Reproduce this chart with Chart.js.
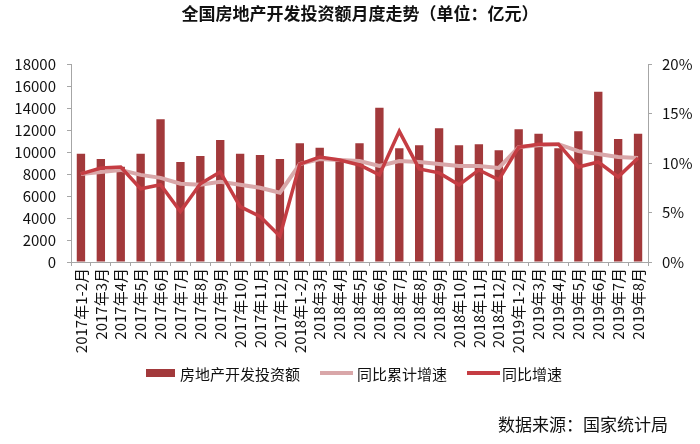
<!DOCTYPE html>
<html>
<head>
<meta charset="utf-8">
<script src="https://cdn.jsdelivr.net/npm/chart.js@4"></script>
<style>
  html, body { margin: 0; padding: 0; background: #fff; }
  #wrap { width: 700px; height: 444px; position: relative; }
</style>
</head>
<body>
<div id="wrap"><canvas id="chart" width="700" height="444"></canvas></div>
<script>
const months = ['2017年1-2月', '2017年3月', '2017年4月', '2017年5月', '2017年6月', '2017年7月', '2017年8月', '2017年9月', '2017年10月', '2017年11月', '2017年12月',
  '2018年1-2月', '2018年3月', '2018年4月', '2018年5月', '2018年6月', '2018年7月', '2018年8月', '2018年9月', '2018年10月', '2018年11月', '2018年12月',
  '2019年1-2月', '2019年3月', '2019年4月', '2019年5月', '2019年6月', '2019年7月', '2019年8月'];
const investment = [9850, 9360, 8670, 9850, 12970, 9090, 9640, 11090, 9850, 9730, 9360,
  10790, 10390, 9250, 10790, 14030, 10330, 10610, 12150, 10610, 10700, 10150,
  12060, 11670, 10330, 11880, 15480, 11180, 11670];
const cumGrowth = [8.9, 9.1, 9.3, 8.8, 8.5, 7.9, 7.8, 8.1, 7.8, 7.5, 7.0,
  9.9, 10.4, 10.3, 10.2, 9.7, 10.2, 10.1, 9.9, 9.7, 9.7, 9.5,
  11.6, 11.8, 11.9, 11.2, 10.9, 10.6, 10.5];
const monthGrowth = [8.9, 9.5, 9.6, 7.4, 7.8, 5.1, 7.9, 9.1, 5.6, 4.6, 2.6,
  9.9, 10.6, 10.3, 9.8, 8.8, 13.2, 9.4, 9.0, 7.8, 9.3, 8.3,
  11.6, 11.9, 11.9, 9.6, 10.1, 8.6, 10.5];
const leftTicks = [0, 2000, 4000, 6000, 8000, 10000, 12000, 14000, 16000, 18000];
const rightTicks = [0, 5, 10, 15, 20];

const FONT = '"Noto Sans CJK SC", "Noto Sans", sans-serif';
const BAR_COLOR = '#A2393B';
const CUM_COLOR = '#D9A7A9';
const MONTH_COLOR = '#C53D43';
const AXIS_COLOR = '#A6A6A6';

const extras = {
  id: 'extras',
  afterDraw(chart) {
    const c = chart.ctx;
    c.save();
    c.fillStyle = '#111';
    c.textBaseline = 'middle';
    // title
    c.font = 'bold 17px ' + FONT;
    c.textAlign = 'center';
    c.fillText('全国房地产开发投资额月度走势（单位：亿元）', 360, 14);
    // legend
    c.font = '15px ' + FONT;
    c.textAlign = 'left';
    c.fillStyle = BAR_COLOR;
    c.fillRect(146, 369, 29, 8);
    c.lineWidth = 4;
    c.strokeStyle = CUM_COLOR;
    c.beginPath(); c.moveTo(320, 373); c.lineTo(353, 373); c.stroke();
    c.strokeStyle = MONTH_COLOR;
    c.beginPath(); c.moveTo(467, 373); c.lineTo(500, 373); c.stroke();
    c.fillStyle = '#111';
    c.fillText('房地产开发投资额', 180, 374);
    c.fillText('同比累计增速', 357, 374);
    c.fillText('同比增速', 502, 374);
    // source
    c.font = '17px ' + FONT;
    c.fillText('数据来源：国家统计局', 498, 425);
    c.restore();
  }
};

new Chart(document.getElementById('chart'), {
  type: 'bar',
  data: {
    labels: months,
    datasets: [
      {
        type: 'line',
        label: '同比增速',
        data: monthGrowth,
        yAxisID: 'y1',
        borderColor: MONTH_COLOR,
        borderWidth: 3.5,
        pointRadius: 0,
        tension: 0,
        order: 0
      },
      {
        type: 'line',
        label: '同比累计增速',
        data: cumGrowth,
        yAxisID: 'y1',
        borderColor: CUM_COLOR,
        borderWidth: 4,
        pointRadius: 0,
        tension: 0,
        order: 1
      },
      {
        label: '房地产开发投资额',
        data: investment,
        yAxisID: 'y',
        backgroundColor: BAR_COLOR,
        barPercentage: 0.42,
        categoryPercentage: 1,
        order: 2
      }
    ]
  },
  options: {
    responsive: false,
    animation: false,
    layout: { padding: { top: 64, left: 0, right: 0, bottom: 0 } },
    plugins: {
      legend: { display: false },
      title: { display: false },
      tooltip: { enabled: false }
    },
    scales: {
      x: {
        afterFit: s => { s.height = 182; },
        border: { color: AXIS_COLOR, width: 1 },
        grid: { drawOnChartArea: false, tickLength: 4, color: AXIS_COLOR, offset: true },
        ticks: {
          autoSkip: false, maxRotation: 90, minRotation: 90, padding: 2,
          color: '#111', font: { family: FONT, size: 15 }
        }
      },
      y: {
        position: 'left',
        min: 0, max: 18000,
        afterFit: s => { s.width = 71; },
        afterBuildTicks: s => { s.ticks = leftTicks.map(v => ({ value: v })); },
        border: { color: AXIS_COLOR, width: 1 },
        grid: { drawOnChartArea: false, tickLength: 4, color: AXIS_COLOR },
        ticks: {
          padding: 11, color: '#111', font: { family: FONT, size: 15 },
          callback: v => String(v)
        }
      },
      y1: {
        position: 'right',
        min: 0, max: 20,
        afterFit: s => { s.width = 52; },
        afterBuildTicks: s => { s.ticks = rightTicks.map(v => ({ value: v })); },
        border: { color: AXIS_COLOR, width: 1 },
        grid: { drawOnChartArea: false, tickLength: 4, color: AXIS_COLOR },
        ticks: {
          padding: 10, color: '#111', font: { family: FONT, size: 15 },
          callback: v => v + '%'
        }
      }
    }
  },
  plugins: [extras]
});
</script>
</body>
</html>
